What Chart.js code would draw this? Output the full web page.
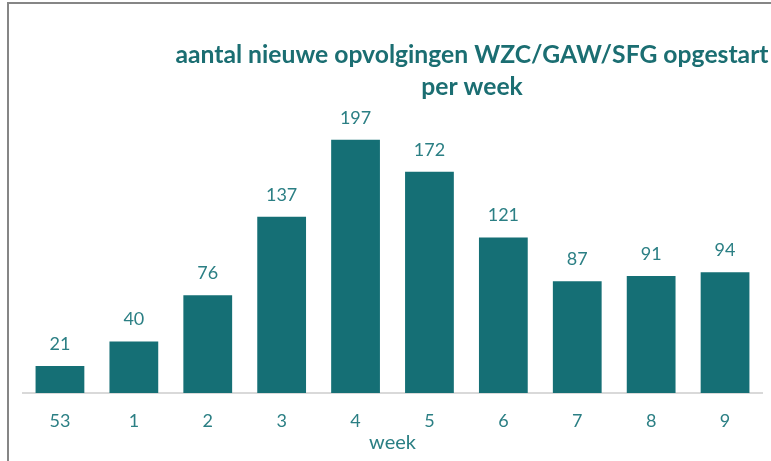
<!DOCTYPE html>
<html>
<head>
<meta charset="utf-8">
<script src="https://cdn.jsdelivr.net/npm/chart.js@4"></script>
<style>
  body { margin: 0; background: #fff; overflow: hidden; }
  #wrap { position: relative; width: 771px; height: 461px; }
  #frame { position: absolute; left: 7px; top: 2px; width: 800px; height: 500px;
           border-left: 2px solid #868686; border-top: 2px solid #868686; }
  canvas { position: absolute; left: 0; top: 0; }
</style>
</head>
<body>
<div id="wrap">
  <div id="frame"></div>
  <canvas id="chart" width="771" height="461"></canvas>
</div>
<script>
// chart data
const weeks = ['53', '1', '2', '3', '4', '5', '6', '7', '8', '9'];
const counts = [21, 40, 76, 137, 197, 172, 121, 87, 91, 94];
const titleLines = ['aantal nieuwe opvolgingen WZC/GAW/SFG opgestart', 'per week'];

const barColor = '#156f75';
const textColor = '#2b7f84';
const titleColor = '#1b6e72';
const fontFamily = "Lato, 'Open Sans', sans-serif";

// title drawn at a fixed spot, it is not centred on the canvas in the original
const titlePlugin = {
  id: 'offsetTitle',
  afterDraw(chart) {
    const ctx = chart.ctx;
    ctx.save();
    ctx.fillStyle = titleColor;
    ctx.font = 'bold 24.7px ' + fontFamily;
    ctx.textAlign = 'center';
    ctx.textBaseline = 'middle';
    ctx.fillText(titleLines[0], 472, 55);
    ctx.fillText(titleLines[1], 472, 87);
    ctx.restore();
  }
};

// value labels above each bar
const valueLabels = {
  id: 'valueLabels',
  afterDatasetsDraw(chart) {
    const ctx = chart.ctx;
    const meta = chart.getDatasetMeta(0);
    ctx.save();
    ctx.fillStyle = textColor;
    ctx.font = '18px ' + fontFamily;
    ctx.textAlign = 'center';
    ctx.textBaseline = 'middle';
    meta.data.forEach((bar, i) => {
      ctx.fillText(chart.data.datasets[0].data[i], bar.x, bar.y - 22);
    });
    ctx.restore();
  }
};

new Chart(document.getElementById('chart'), {
  type: 'bar',
  data: {
    labels: weeks,
    datasets: [{
      data: counts,
      backgroundColor: barColor,
      borderWidth: 0,
      categoryPercentage: 1,
      barPercentage: 0.66
    }]
  },
  options: {
    responsive: false,
    animation: false,
    layout: { padding: { left: 23, right: 9, top: 123, bottom: 0 } },
    plugins: {
      legend: { display: false },
      tooltip: { enabled: false },
      title: { display: false }
    },
    scales: {
      y: {
        display: false,
        min: 0,
        max: 210
      },
      x: {
        afterFit(scale) { scale.height = 68; },
        grid: { display: false, drawTicks: false },
        border: { display: true, color: '#d9d9d9', width: 2 },
        ticks: {
          color: textColor,
          font: { family: fontFamily, size: 18 },
          padding: 17
        },
        title: {
          display: true,
          text: 'week',
          color: textColor,
          font: { family: fontFamily, size: 20 },
          padding: { top: 0, bottom: 6 }
        }
      }
    }
  },
  plugins: [titlePlugin, valueLabels]
});
</script>
</body>
</html>
